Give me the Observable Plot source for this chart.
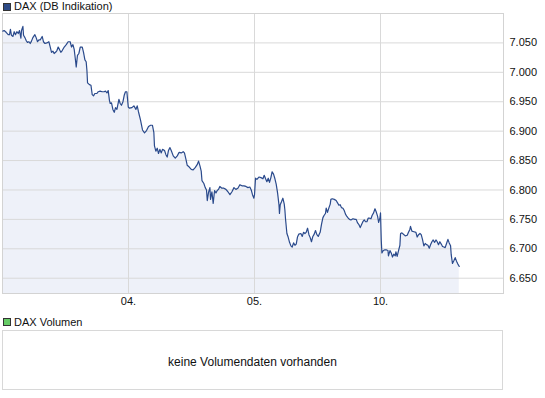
<!DOCTYPE html>
<html>
<head>
<meta charset="utf-8">
<script src="https://cdn.jsdelivr.net/npm/d3@7"></script>
<script src="https://cdn.jsdelivr.net/npm/@observablehq/plot@0.6"></script>
<style>
  html, body { margin: 0; padding: 0; background: #fff; }
  body { font-family: "Liberation Sans", Arial, sans-serif; color: #111; }
  #wrap { position: relative; width: 545px; height: 398px; overflow: hidden; }
  .sq { position: absolute; width: 6px; height: 6px; border: 1px solid #333; }
  .lg { position: absolute; font-size: 11px; line-height: 13px; white-space: nowrap; }
  #chart { position: absolute; left: 0; top: 0; }
  #volbox { position: absolute; left: 2px; top: 330px; width: 501px; height: 60px; box-sizing: border-box; border: 1px solid #d8d8d8; }
  #voltext { position: absolute; left: 2px; width: 501px; top: 355px; text-align: center; font-size: 12px; line-height: 14px; }
</style>
</head>
<body>
<div id="wrap">
  <div class="sq" style="left:3px; top:3px; background:#2d4a86;"></div>
  <div class="lg" id="title" style="left:14px; top:0px;"></div>
  <div id="chart"></div>
  <div class="sq" style="left:3px; top:318px; background:#66cc66;"></div>
  <div class="lg" id="voltitle" style="left:14px; top:316px;"></div>
  <div id="volbox"></div>
  <div id="voltext"></div>
</div>
<script>
// Series name / texts
const seriesName = "DAX (DB Indikation)";
const volumeName = "DAX Volumen";
const volumeNote = "keine Volumendaten vorhanden";

// x: trading-session time (0 = start of 03., 1 = start of 04., ...)
const times = [
0.003,0.013,0.029,0.045,0.056,0.063,0.071,0.083,0.093,0.103,0.114,0.125,0.135,0.146,0.151,0.162,0.167,0.178,0.188,0.198,
0.210,0.220,0.230,0.241,0.257,0.267,0.278,0.289,0.299,0.315,0.325,0.337,0.352,0.368,0.379,0.389,0.400,0.410,0.421,0.432,
0.442,0.452,0.463,0.474,0.490,0.506,0.521,0.537,0.548,0.559,0.569,0.579,0.585,0.595,0.606,0.617,0.633,0.643,0.654,0.664,
0.670,0.675,0.690,0.702,0.712,0.722,0.733,0.749,0.760,0.775,0.791,0.807,0.817,0.829,0.839,0.849,0.855,0.865,0.876,0.887,
0.897,0.908,0.924,0.934,0.944,0.956,0.966,0.976,0.987,0.998,
1.008,1.027,1.043,1.059,1.069,1.079,1.095,1.111,1.127,1.143,1.159,1.175,1.190,1.201,1.206,1.217,1.228,1.238,1.249,1.260,
1.270,1.286,1.297,1.307,1.317,1.329,1.339,1.355,1.371,1.387,1.402,1.418,1.434,1.444,1.456,1.466,1.482,1.498,1.513,1.529,
1.545,1.556,1.567,1.577,1.583,1.598,1.609,1.619,1.625,1.635,1.646,1.651,1.662,1.672,1.683,1.694,1.704,1.714,1.725,1.741,
1.757,1.773,1.789,1.805,1.821,1.837,1.852,1.868,1.884,1.900,1.916,1.932,1.948,1.963,1.974,1.984,1.995,
2.000,2.008,2.019,2.035,2.051,2.067,2.077,2.088,2.098,2.109,2.119,2.130,2.140,2.151,2.162,2.172,2.183,2.194,2.198,2.204,
2.214,2.225,2.236,2.241,2.246,2.257,2.267,2.278,2.289,2.299,2.310,2.321,2.331,2.341,2.352,2.368,2.379,2.389,2.400,2.410,
2.421,2.432,2.442,2.452,2.463,2.474,2.484,2.495,2.506,2.516,2.521,2.532,2.543,2.553,2.563,2.569,2.579,2.591,2.601,2.606,
2.617,2.633,2.648,2.659,2.670,2.680,2.690,2.702,2.712,2.722,2.733,2.744,2.754,2.765,2.781,2.797,2.807,2.818,2.829,2.839,
2.849,2.860,2.871,2.881,2.892,2.902,2.913,2.924,2.934,2.945,2.956,2.967,2.977,2.985,2.996,
3.000,3.006,3.011,3.022,3.032,3.048,3.059,3.063,3.075,3.085,3.095,3.106,3.117,3.122,3.132,3.143,3.154,3.159,3.170,3.186,
3.196,3.212,3.222,3.233,3.238,3.249,3.265,3.281,3.291,3.302,3.313,3.323,3.333,3.344,3.355,3.365,3.376,3.387,3.397,3.408,
3.418,3.429,3.440,3.450,3.460,3.471,3.482,3.492,3.503,3.513,3.524,3.535,3.545,3.556,3.561,3.571,3.583,3.593,3.603,3.614,
3.625
];

const values = [
7070,7071,7068,7064,7064,7073,7063,7061,7069,7064,7069,7066,7071,7058,7071,7078,7063,7059,7054,7051,
7052,7049,7053,7059,7064,7059,7052,7055,7055,7061,7052,7049,7050,7052,7043,7034,7036,7032,7034,7037,
7043,7039,7034,7037,7043,7047,7052,7052,7043,7047,7039,7021,7009,7029,7032,7043,7043,7034,7021,7018,
7003,6982,6979,6978,6962,6960,6964,6964,6967,6968,6967,6967,6968,6965,6969,6952,6947,6948,6937,6932,
6940,6937,6954,6947,6944,6950,6961,6967,6967,6941,
6939,6940,6943,6937,6943,6933,6919,6902,6897,6901,6908,6910,6910,6898,6875,6866,6871,6862,6869,6863,
6869,6867,6860,6856,6867,6872,6867,6858,6854,6858,6864,6863,6865,6863,6852,6842,6839,6835,6834,6838,
6843,6849,6841,6832,6816,6811,6804,6800,6782,6796,6804,6784,6797,6777,6799,6795,6799,6801,6806,6803,
6803,6801,6797,6792,6797,6804,6801,6803,6809,6807,6807,6806,6804,6805,6800,6792,6786,
6792,6820,6818,6822,6821,6819,6825,6819,6814,6820,6813,6821,6831,6827,6819,6810,6795,6775,6760,6775,
6780,6786,6776,6766,6751,6726,6720,6711,6705,6703,6710,6706,6708,6720,6725,6726,6721,6728,6726,6728,
6735,6724,6719,6712,6721,6725,6731,6724,6721,6726,6728,6742,6753,6757,6760,6769,6762,6770,6776,6784,
6785,6784,6782,6778,6774,6775,6770,6769,6765,6759,6755,6752,6750,6749,6751,6750,6750,6744,6741,6736,
6741,6746,6749,6746,6746,6752,6752,6751,6757,6761,6768,6762,6755,6745,6753,
6761,6714,6693,6697,6698,6698,6697,6688,6697,6693,6686,6691,6688,6695,6687,6697,6706,6726,6727,6724,
6722,6723,6728,6733,6738,6730,6729,6728,6720,6724,6726,6724,6716,6705,6709,6707,6706,6701,6707,6712,
6715,6711,6715,6712,6707,6712,6708,6704,6703,6702,6709,6716,6710,6705,6690,6675,6680,6685,6679,6674,
6670
];

// Axis ticks
const yTicks = [6650, 6700, 6750, 6800, 6850, 6900, 6950, 7000, 7050];
const xTickPos = [1, 2, 3];
const xTickLabels = ["04.", "05.", "10."];
const yDomain = [6624, 7100];
const xDomain = [0, 3.976];

document.getElementById("title").textContent = seriesName;
document.getElementById("voltitle").textContent = volumeName;
document.getElementById("voltext").textContent = volumeNote;

const data = times.map((t, i) => ({t, v: values[i]}));
const de = d3.formatLocale({decimal: ",", thousands: ".", grouping: [3], currency: ["", " €"]});
const fmt = de.format(",d");

const chart = Plot.plot({
  width: 545,
  height: 310,
  marginTop: 13,
  marginBottom: 17,
  marginLeft: 2,
  marginRight: 42,
  style: {fontFamily: "'Liberation Sans', Arial, sans-serif", fontSize: "11px", color: "#111", background: "transparent", overflow: "visible"},
  x: {domain: xDomain},
  y: {domain: yDomain},
  marks: [
    Plot.areaY(data, {x: "t", y1: yDomain[0], y2: "v", fill: "#eef1f9"}),
    Plot.gridY(yTicks, {stroke: "#d9d9d9", strokeOpacity: 1}),
    Plot.gridX(xTickPos, {stroke: "#d9d9d9", strokeOpacity: 1}),
    Plot.frame({stroke: "#d3d3d3"}),
    Plot.lineY(data, {x: "t", y: "v", stroke: "#2a4a8c", strokeWidth: 1.2}),
    Plot.axisY(yTicks, {anchor: "right", tickSize: 0, tickPadding: 6, tickFormat: fmt, label: null}),
    Plot.axisX(xTickPos, {anchor: "bottom", tickSize: 0, tickPadding: 4, tickFormat: (d, i) => xTickLabels[xTickPos.indexOf(d)], label: null})
  ]
});
document.getElementById("chart").appendChild(chart);
</script>
</body>
</html>
